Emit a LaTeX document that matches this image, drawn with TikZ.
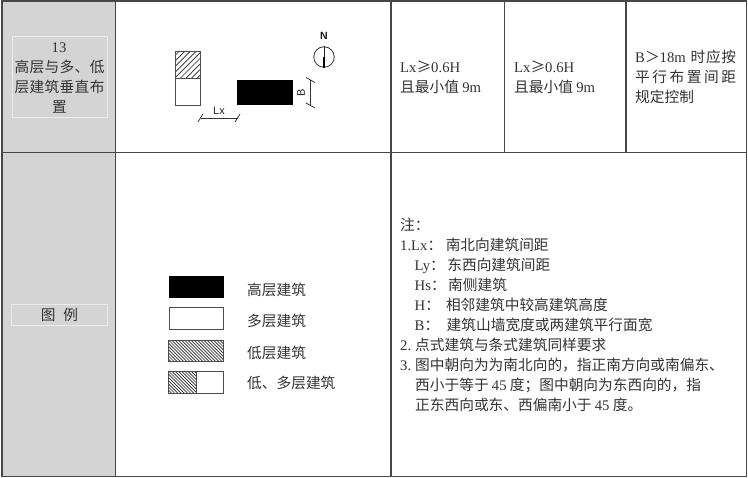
\documentclass[tikz,border=0pt]{standalone}
\usepackage{fontspec}
\setmainfont{Liberation Serif}
\newfontfamily\cjk{Noto Sans CJK SC}
\newfontfamily\arial{Liberation Sans}
\newcommand{\lat}[1]{{\fontspec{Liberation Serif}\fontsize{14.7}{16}\selectfont #1}}
\newcommand{\spreadbox}[2]{\makebox[#1pt][s]{#2}}
\newcommand{\numbox}[1]{\makebox[15pt][l]{\lat{#1}}}
\newcommand{\hatchbox}[6]{%
  \begin{scope}
    \clip (#1,#2) rectangle (#3,#4);
    \foreach \i in {0,...,70} {
      \draw[hatchline] ({#1-80+\i*#5},#2) -- ({#1-80+\i*#5+#6*(#4-#2)},#4);
    }
  \end{scope}}
\tikzset{
  gridline/.style={draw=black!72,line width=1.4pt},
  inset/.style={draw=white!92!black,line width=.7pt},
  hatchline/.style={draw=black!85,line width=.7pt},
  bldg/.style={draw=black!70,line width=.9pt},
  dimline/.style={draw=black!80,line width=.7pt},
  tick/.style={draw=black!85,line width=.7pt},
  txt/.style={inner sep=0pt,anchor=base west,text=black!80,font=\cjk\fontsize{14.7}{16}\selectfont},
  ctxt/.style={inner sep=0pt,anchor=base,text=black!80,font=\cjk\fontsize{14.7}{16}\selectfont},
  legtxt/.style={txt}
}
\begin{document}
\begin{tikzpicture}[x=1pt,y=-1pt]
\useasboundingbox (0,0) rectangle (748,478);
\fill[white] (0,0) rectangle (748,478);
\fill[black!17] (2,1) rectangle (115.5,477);
% table grid
\draw[gridline] (2,1) rectangle (746.5,476.5);
\draw[gridline] (2,152.5) -- (746.5,152.5);
\draw[gridline] (115.5,1) -- (115.5,476.5);
\draw[gridline] (391,1) -- (391,476.5);
\draw[gridline] (504.5,1) -- (504.5,152.5);
\draw[gridline] (626,1) -- (626,152.5);
% left column insets
\draw[inset] (12,36.5) rectangle (107,117);
\draw[inset] (11.5,304.5) rectangle (107,325.5);
\node[ctxt] (num) at (59,52.5) {\lat{13}};
\node[ctxt] (t1) at (59.5,72.5) {\spreadbox{90}{高\hfil 层\hfil 与\hfil 多\hfil 、\hfil 低}};
\node[ctxt] (t2) at (59.5,92.5) {\spreadbox{90}{层\hfil 建\hfil 筑\hfil 垂\hfil 直\hfil 布}};
\node[ctxt] (t3) at (59.5,112.5) {置};
\node[ctxt] (legendtitle) at (59.5,320.5) {图\hspace{8pt}例};
% plan
\hatchbox{175.5}{51}{200.5}{78}{5.6}{-1}
\draw[bldg] (175.5,51) rectangle (200.5,78);
\draw[bldg] (175.5,78) rectangle (200.5,105.5);
\fill[black] (237,80) rectangle (292.5,105.5);
\coordinate (lxa) at (200.5,118);
\coordinate (lxb) at (237.5,118);
\coordinate (ba) at (310.5,80);
\coordinate (bb) at (310.5,105.5);
\draw[dimline] (lxa) -- (lxb);
\draw[dimline] (ba) -- (bb);
\draw[tick] (198,122) -- (203,114);
\draw[tick] (235,122) -- (240,114);
\draw[tick] (306,77.5) -- (315,82.5);
\draw[tick] (306,103) -- (315,108);
\node[inner sep=0pt,text=black!85,font=\arial\fontsize{11}{12}\selectfont] (lxlabel) at (219,110.5) {Lx};
\node[inner sep=0pt,text=black!85,rotate=90,font=\arial\fontsize{11}{12}\selectfont] (blabel) at (301,93) {B};
\node[inner sep=0pt,text=black!90,font=\arial\bfseries\fontsize{10.5}{12}\selectfont] (nlabel) at (324,36) {N};
\node[circle,draw=black!80,line width=.8pt,minimum size=20.5pt,inner sep=0pt] (compass) at (324,57) {};
\draw[black!85,line width=.6pt] (compass.north) -- (compass.center);
\draw[black,line width=2pt] (compass.center) -- (compass.south);
% cell texts
\node[txt] (c1a) at (400,72.5) {\lat{Lx}≥\lat{0.6H}};
\node[txt] (c1b) at (400,92.5) {且最小值 \lat{9m}};
\node[txt] (c2a) at (514,72.5) {\lat{Lx}≥\lat{0.6H}};
\node[txt] (c2b) at (514,92.5) {且最小值 \lat{9m}};
\node[txt] (c3a) at (635,62.5) {\spreadbox{101}{\lat{B}＞\lat{18m}\hspace{4pt}\hfil 时\hfil 应\hfil 按}};
\node[txt] (c3b) at (635,82.5) {\spreadbox{101}{平\hfil 行\hfil 布\hfil 置\hfil 间\hfil 距}};
\node[txt] (c3c) at (635,102.5) {规定控制};
% legend
\fill[black] (169,276.5) rectangle (224,298.5);
\draw[bldg] (169,307.5) rectangle (223.5,329);
\hatchbox{168.5}{340}{223.5}{361.5}{3.2}{1}
\draw[bldg] (168.5,340) rectangle (223.5,361.5);
\hatchbox{168.5}{371}{196}{393}{3.2}{1}
\draw[bldg] (168.5,371) rectangle (223.5,393);
\draw[bldg] (196,371) -- (196,393);
\node[legtxt] (l1) at (247,296) {高层建筑};
\node[legtxt] (l2) at (247,327) {多层建筑};
\node[legtxt] (l3) at (247,358.5) {低层建筑};
\node[legtxt] (l4) at (247,389) {低、多层建筑};
% notes
\node[txt] (n0) at (400,230.5) {注：};
\node[txt] (n1) at (400,250.5) {\lat{1.Lx}：\hspace{3.5pt}南北向建筑间距};
\node[txt] (n2) at (414.5,270.5) {\lat{Ly}：\,东西向建筑间距};
\node[txt] (n3) at (414.5,290.5) {\lat{Hs}：\,南侧建筑};
\node[txt] (n4) at (414.5,310.5) {\lat{H}：\hspace{6pt}相邻建筑中较高建筑高度};
\node[txt] (n5) at (414.5,330.5) {\lat{B}：\hspace{7.5pt}建筑山墙宽度或两建筑平行面宽};
\node[txt] (n6) at (400,350.5) {\numbox{2.}点式建筑与条式建筑同样要求};
\node[txt] (n7) at (400,370.5) {\numbox{3.}图中朝向为为南北向的，指正南方向或南偏东、};
\node[txt] (n8) at (415,390.5) {西小于等于 \lat{45} 度；图中朝向为东西向的，指};
\node[txt] (n9) at (415,410.5) {正东西向或东、西偏南小于 \lat{45} 度。};
\end{tikzpicture}
\end{document}
